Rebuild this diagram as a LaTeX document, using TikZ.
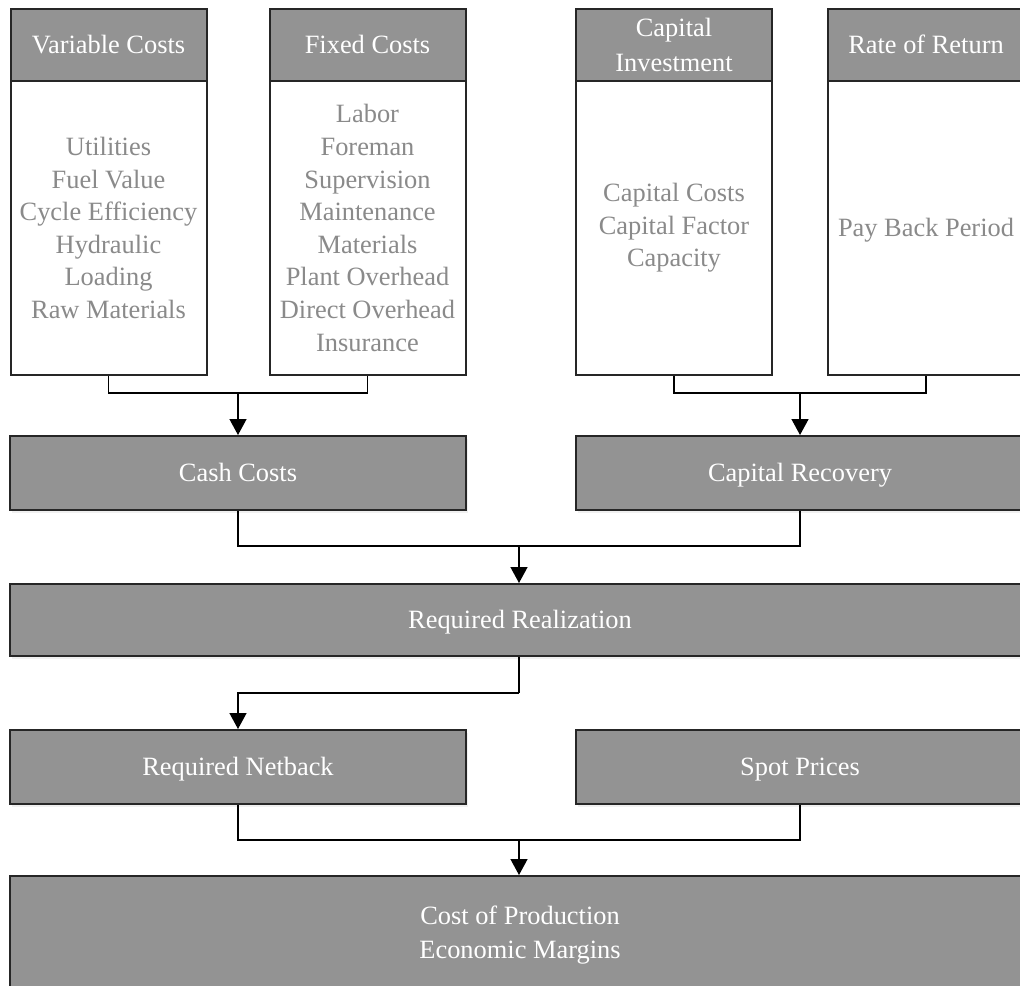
\documentclass[tikz,border=0pt]{standalone}
\usepackage{fontspec}
\setmainfont{Liberation Serif}
\usetikzlibrary{positioning, arrows.meta, shadows}
\definecolor{boxgray}{HTML}{939393}
\definecolor{boxline}{HTML}{262626}
\definecolor{bodytext}{HTML}{8A8A8A}
\newcommand{\diagfont}{\fontsize{13.2}{16.3}\selectfont}
\tikzset{
every node/.style={font=\diagfont, inner sep=0pt, align=center},
oneline/.style={text height=11pt, text depth=2.3pt},
head/.style={draw=boxline, line width=1pt, fill=boxgray, text=white, minimum width=98pt, minimum height=36pt},
body/.style={draw=boxline, line width=1pt, fill=white, text=bodytext, minimum width=98pt, minimum height=147pt},
bar/.style={draw=boxline, line width=1pt, fill=boxgray, text=white, minimum height=37pt,
  drop shadow={shadow xshift=1pt, shadow yshift=-1.5pt, opacity=0.12}},
link/.style={draw=black, line width=0.7pt},
feed/.style={link, -{Triangle[width=8.5pt, length=8pt]}},
}

\begin{document}
\begin{tikzpicture}[x=0.5pt, y=-0.5pt]
    \useasboundingbox (0,0) rectangle (1020,985);
    \clip (0,0) rectangle (1020,985);

    %top boxes: headers
    \node[head, oneline] (varh) at (108.5,45) {Variable Costs};
    \node[head, oneline] (fixh) at (367.5,45) {Fixed Costs};
    \node[head]          (invh) at (674,45)   {Capital\\[1.2pt] Investment};
    \node[head, oneline] (rorh) at (926,45)   {Rate of Return};

    %top boxes: bodies
    \node[body] (varb) at (108.5,228) {Utilities\\ Fuel Value\\ Cycle Efficiency\\ Hydraulic\\ Loading\\ Raw Materials};
    \node[body] (fixb) at (367.5,228) {Labor\\ Foreman\\ Supervision\\ Maintenance\\ Materials\\ Plant Overhead\\ Direct Overhead\\ Insurance};
    \node[body] (invb) at (674,228)   {Capital Costs\\ Capital Factor\\ Capacity};
    \node[body, oneline] (rorb) at (926,228) {Pay Back Period};

    %second row
    \node[bar, oneline, minimum width=228pt] (cash) at (238,473) {Cash Costs};
    \node[bar, oneline, minimum width=224pt] (crec) at (800,473) {Capital Recovery};

    %third row
    \node[bar, oneline, minimum width=510pt, minimum height=36pt] (real) at (520,620) {Required Realization};

    %fourth row
    \node[bar, oneline, minimum width=228pt] (netb) at (238,767) {Required Netback};
    \node[bar, oneline, minimum width=224pt] (spot) at (800,767) {Spot Prices};

    %bottom row
    \node[bar, minimum width=510pt, minimum height=59pt] (prod) at (520,935) {Cost of Production\\[0.7pt] Economic Margins};

    %junctions
    \coordinate (j1) at (238,393);
    \coordinate (j2) at (800,393);
    \coordinate (j3) at (519,546);
    \coordinate (j4) at (519,693);
    \coordinate (j5) at (519,840);

    %connectors
    \draw[link] (varb.south) |- (j1) -| (fixb.south);
    \draw[feed] (j1) -- (j1 |- cash.north);
    \draw[link] (invb.south) |- (j2) -| (rorb.south);
    \draw[feed] (j2) -- (j2 |- crec.north);

    \draw[link] (cash.south) |- (j3) -| (crec.south);
    \draw[feed] (j3) -- (j3 |- real.north);

    \draw[link] (j4 |- real.south) -- (j4);
    \draw[feed] (j4) -| (netb.north);

    \draw[link] (netb.south) |- (j5) -| (spot.south);
    \draw[feed] (j5) -- (j5 |- prod.north);

\end{tikzpicture}
\end{document}
